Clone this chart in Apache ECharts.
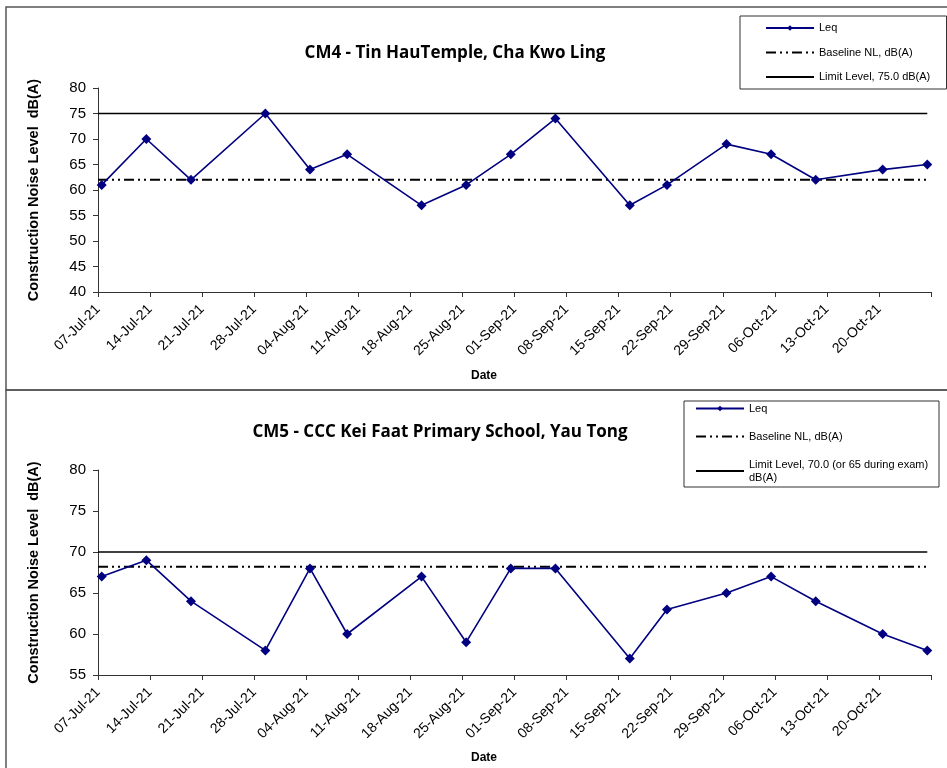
<!DOCTYPE html>
<html><head><meta charset="utf-8">
<script src="https://cdn.jsdelivr.net/npm/echarts@6/dist/echarts.min.js"></script>
<style>html,body{margin:0;padding:0;background:#fff}#c{width:947px;height:768px}</style>
</head><body><div id="c"></div>
<script>
// ---- data ----
const tickStart = '2021-07-07';
const tickIntervalDays = 7;
const axisEndDays = 112;
const measureDates = ['2021-07-07','2021-07-13','2021-07-19','2021-07-29','2021-08-04','2021-08-09','2021-08-19','2021-08-25','2021-08-31','2021-09-06','2021-09-16','2021-09-21','2021-09-29','2021-10-05','2021-10-11','2021-10-20','2021-10-26'];
const measureHour = 12;
const cm4Leq = [61,70,62,75,64,67,57,61,67,74,57,61,69,67,62,64,65];
const cm5Leq = [67,69,64,58,68,60,67,59,68,68,57,63,65,67,64,60,58];
const cm4Baseline = 62, cm4Limit = 75;
const cm5Baseline = 68.2, cm5Limit = 70;
const cm4Title = 'CM4 - Tin HauTemple, Cha Kwo Ling';
const cm5Title = 'CM5 - CCC Kei Faat Primary School, Yau Tong';
const leqName = 'Leq';
const baseName = 'Baseline NL, dB(A)';
const cm4LimitName = 'Limit Level, 75.0 dB(A)';
const cm5LimitName = 'Limit Level, 70.0 (or 65 during exam) dB(A)';
const yName = 'Construction Noise Level  dB(A)';
const xName = 'Date';
const monthNames = ['Jan','Feb','Mar','Apr','May','Jun','Jul','Aug','Sep','Oct','Nov','Dec'];

function utc(s, h) { const p = s.split('-').map(Number); return Date.UTC(p[0], p[1]-1, p[2], h || 0); }
const t0 = utc(tickStart, 0);
const DAY = 86400000;
const xs = measureDates.map(d => (utc(d, measureHour) - t0) / DAY);
function fmtDay(v) {
  if (v >= axisEndDays) return '';
  const d = new Date(t0 + v * DAY);
  const dd = String(d.getUTCDate()).padStart(2, '0');
  const yy = String(d.getUTCFullYear()).slice(2);
  return dd + '-' + monthNames[d.getUTCMonth()] + '-' + yy;
}
const lastX = xs[xs.length - 1];

const FONT = 'Liberation Sans, Arial, sans-serif';
const dashDotDot = [10, 4, 2, 4, 2, 4];
const noSym = { color: 'rgba(0,0,0,0)', borderColor: 'rgba(0,0,0,0)', borderWidth: 0 };

function xAxisCfg(gi, gap) {
  return {
    type: 'value', gridIndex: gi, min: 0, max: axisEndDays, interval: tickIntervalDays,
    axisLine: { show: true, lineStyle: { color: '#333', width: 1 } },
    axisTick: { show: true, length: 5, lineStyle: { color: '#333' } },
    splitLine: { show: false },
    axisLabel: { rotate: 45, margin: 15, color: '#000', fontFamily: FONT, fontSize: 14, formatter: fmtDay },
    name: xName, nameLocation: 'middle', nameGap: gap,
    nameTextStyle: { fontFamily: FONT, fontSize: 12, fontWeight: 'bold', color: '#000', padding: [0, 61, 0, 0] }
  };
}
function yAxisCfg(gi, min) {
  return {
    type: 'value', gridIndex: gi, min: min, max: 80, interval: 5,
    axisLine: { show: true, lineStyle: { color: '#333', width: 1 } },
    axisTick: { show: true, length: 5, lineStyle: { color: '#333' } },
    splitLine: { show: false },
    axisLabel: { margin: 12, color: '#000', fontFamily: FONT, fontSize: 15 },
    name: yName, nameLocation: 'middle', nameGap: 57, nameRotate: 90,
    nameTextStyle: { fontFamily: FONT, fontSize: 14.5, fontWeight: 'bold', color: '#000' }
  };
}
function leqSeries(gi, vals) {
  return {
    name: leqName, type: 'line', xAxisIndex: gi, yAxisIndex: gi,
    data: xs.map((x, i) => [x, vals[i]]),
    symbol: 'diamond', symbolSize: 10, showSymbol: true,
    lineStyle: { color: '#000080', width: 1.6 },
    itemStyle: { color: '#000080' },
    animation: false, z: 3
  };
}
function flatSeries(gi, name, v, dashed) {
  return {
    name: name, type: 'line', xAxisIndex: gi, yAxisIndex: gi,
    data: [[0, v], [lastX, v]], symbol: 'none',
    lineStyle: { color: '#000', width: dashed ? 2 : 1.6, type: dashed ? dashDotDot : 'solid' },
    itemStyle: { color: '#000' },
    animation: false, z: 2
  };
}

const chart = echarts.init(document.getElementById('c'), null, { renderer: 'canvas' });
chart.setOption({
  backgroundColor: '#fff',
  animation: false,
  title: [
    { text: cm4Title, left: 455, top: 45, textAlign: 'center', padding: 0,
      textStyle: { fontFamily: 'Open Sans, sans-serif', fontSize: 17, fontWeight: 'bold', color: '#000' } },
    { text: cm5Title, left: 440, top: 424, textAlign: 'center', padding: 0,
      textStyle: { fontFamily: 'Open Sans, sans-serif', fontSize: 17, fontWeight: 'bold', color: '#000' } }
  ],
  grid: [
    { left: 98, top: 88, width: 833, height: 204, containLabel: false },
    { left: 98, top: 470, width: 833, height: 205, containLabel: false }
  ],
  xAxis: [xAxisCfg(0, 78), xAxisCfg(1, 77)],
  yAxis: [yAxisCfg(0, 40), yAxisCfg(1, 55)],
  legend: [
    { data: [leqName, { name: baseName, itemStyle: noSym }, { name: cm4LimitName, itemStyle: noSym }],
      orient: 'vertical', left: 765, top: 21,
      itemWidth: 48, itemHeight: 7, itemGap: 10.5, padding: 0, selectedMode: false,
      textStyle: { fontFamily: FONT, fontSize: 11, color: '#000', lineHeight: 14 } },
    { data: [leqName, { name: baseName, itemStyle: noSym }, { name: cm5LimitName, itemStyle: noSym }],
      orient: 'vertical', left: 695, top: 402,
      itemWidth: 48, itemHeight: 7, itemGap: 15, padding: 0, selectedMode: false,
      formatter: n => n === cm5LimitName ? 'Limit Level, 70.0 (or 65 during exam)\ndB(A)' : n,
      textStyle: { fontFamily: FONT, fontSize: 11, color: '#000', lineHeight: 13 } }
  ],
  graphic: [
    { type: 'rect', shape: { x: 6, y: 7, width: 960, height: 383 }, style: { fill: null, stroke: '#555', lineWidth: 1.5 }, silent: true, z: -1 },
    { type: 'rect', shape: { x: 6, y: 390, width: 960, height: 420 }, style: { fill: null, stroke: '#555', lineWidth: 1.5 }, silent: true, z: -1 },
    { type: 'rect', shape: { x: 740, y: 16, width: 206.5, height: 73 }, style: { fill: '#fff', stroke: '#333', lineWidth: 1 }, silent: true, z: 0 },
    { type: 'rect', shape: { x: 684, y: 401, width: 255, height: 86 }, style: { fill: '#fff', stroke: '#333', lineWidth: 1 }, silent: true, z: 0 }
  ],
  series: [
    flatSeries(0, cm4LimitName, cm4Limit, false),
    flatSeries(0, baseName, cm4Baseline, true),
    leqSeries(0, cm4Leq),
    flatSeries(1, cm5LimitName, cm5Limit, false),
    flatSeries(1, baseName, cm5Baseline, true),
    leqSeries(1, cm5Leq)
  ]
});
</script>
</body></html>
